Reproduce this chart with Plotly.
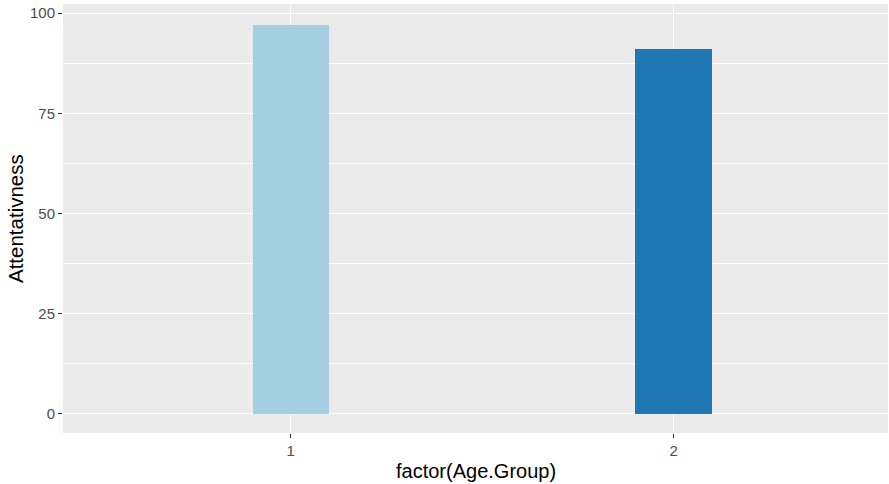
import plotly.graph_objects as go

age_groups = [1, 2]
age_labels = ["1", "2"]
attentiveness = [97, 91]
bar_colors = ["#A6CEE3", "#1F78B4"]
y_ticks = [0, 25, 50, 75, 100]

fig = go.Figure()
fig.add_trace(go.Bar(
    x=age_groups, y=attentiveness, width=0.2,
    marker=dict(color=bar_colors, line=dict(width=0)),
    showlegend=False, hoverinfo="skip",
))

font = "Liberation Sans, Arial, sans-serif"
fig.update_layout(
    width=889, height=484,
    margin=dict(l=63, r=1, t=4, b=51),
    paper_bgcolor="white",
    plot_bgcolor="#EBEBEB",
    font=dict(family=font),
    bargap=0,
    xaxis=dict(
        range=[0.405, 2.56], automargin=False,
        tickvals=age_groups, ticktext=age_labels,
        showgrid=True, gridcolor="white", gridwidth=1.3,
        zeroline=False, showline=False,
        ticks="outside", ticklen=4, tickcolor="#333333", tickwidth=1,
        tickfont=dict(size=15, color="#4D4D4D", family=font),
    ),
    yaxis=dict(
        range=[-4.85, 102.3], automargin=False,
        tickvals=y_ticks, ticktext=[str(v) for v in y_ticks],
        showgrid=True, gridcolor="white", gridwidth=1.3,
        zeroline=False, showline=False,
        ticks="outside", ticklen=4, tickcolor="#333333", tickwidth=1,
        tickfont=dict(size=15, color="#4D4D4D", family=font),
        minor=dict(dtick=12.5, tick0=12.5, showgrid=True, gridcolor="white", gridwidth=0.6, ticks=""),
    ),
    annotations=[
        dict(text="factor(Age.Group)", xref="paper", yref="paper", x=0.5, y=-0.058,
             xanchor="center", yanchor="top", showarrow=False,
             font=dict(size=20, color="black", family=font)),
        dict(text="Attentativness", xref="paper", x=0, xshift=-34, yref="paper", y=0.5,
             xanchor="right", yanchor="middle", showarrow=False, textangle=-90,
             font=dict(size=20.5, color="black", family=font)),
    ],
)

fig.write_html("out.html", config={"displayModeBar": False},
               post_script="document.body.style.margin='0';")
